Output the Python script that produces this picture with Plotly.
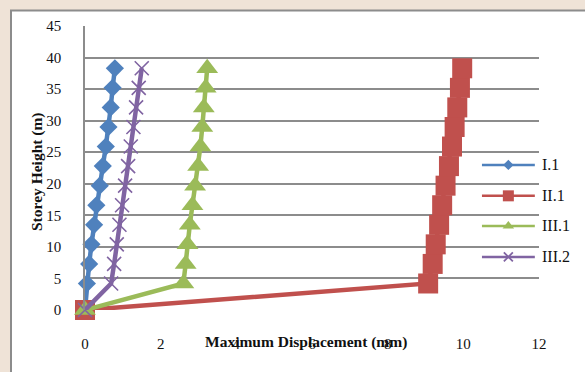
import plotly.graph_objects as go

# Storey levels (m) and peak displacement (mm) per load case
storey_height = [0, 4.2, 7.3, 10.4, 13.5, 16.6, 19.7, 22.8, 25.9, 29.0, 32.1, 35.2, 38.3]
disp_I1 = [0, 0.05, 0.11, 0.17, 0.24, 0.30, 0.39, 0.47, 0.55, 0.62, 0.68, 0.73, 0.79]
disp_II1 = [0, 9.07, 9.19, 9.27, 9.36, 9.44, 9.53, 9.62, 9.70, 9.77, 9.84, 9.91, 9.97]
disp_III1 = [0, 2.60, 2.66, 2.71, 2.77, 2.84, 2.91, 2.99, 3.05, 3.10, 3.14, 3.19, 3.23]
disp_III2 = [0, 0.69, 0.77, 0.84, 0.91, 0.98, 1.06, 1.14, 1.21, 1.28, 1.35, 1.42, 1.50]

series_names = ["I.1", "II.1", "III.1", "III.2"]
x_ticks = [0, 2, 4, 6, 8, 10, 12]
y_ticks = [0, 5, 10, 15, 20, 25, 30, 35, 40, 45]

colors = ["#4F81BD", "#C0504D", "#9BBB59", "#8064A2"]
symbols = ["diamond", "square", "triangle-up", "x-thin-open"]
sizes = [14, 20, 19, 14]
key_sizes = [8, 11, 10, 9]
SERIF = "Liberation Serif"

fig = go.Figure()

for name, xs, col, sym, sz in zip(series_names, [disp_I1, disp_II1, disp_III1, disp_III2],
                                  colors, symbols, sizes):
    fig.add_trace(go.Scatter(
        x=xs, y=storey_height, mode="lines+markers", name=name,
        line=dict(color=col, width=4.5),
        marker=dict(symbol=sym, size=sz, color=col,
                    line=dict(color=col, width=1.6 if "x" in sym else 0)),
        cliponaxis=False, showlegend=False,
    ))

# Legend keys drawn on a small overlay axis at the right of the plot
key_rows = [0.511, 0.402, 0.296, 0.187]
for name, col, sym, ks, yk in zip(series_names, colors, symbols, key_sizes, key_rows):
    fig.add_trace(go.Scatter(
        x=[0, 1], y=[yk, yk], mode="lines", xaxis="x2", yaxis="y2",
        line=dict(color=col, width=2.5), showlegend=False, hoverinfo="skip",
        cliponaxis=False,
    ))
    fig.add_trace(go.Scatter(
        x=[0.5], y=[yk], mode="markers", xaxis="x2", yaxis="y2",
        marker=dict(symbol=sym, size=ks, color=col,
                    line=dict(color=col, width=1.8 if "x" in sym else 0)),
        showlegend=False, hoverinfo="skip", cliponaxis=False,
    ))
    fig.add_annotation(text=name, x=1.002, y=yk, xref="paper", yref="paper",
                       xanchor="left", yanchor="middle", showarrow=False,
                       font=dict(family=SERIF, size=16, color="#111111"))

# Chart-area frame
fig.add_shape(type="rect", xref="paper", yref="paper",
              x0=-0.163, x1=1.15, y0=-0.35, y1=1.055,
              fillcolor="white", line=dict(color="#8c8c8c", width=2), layer="below")

# Axis titles
fig.add_annotation(text="<b>Maximum Displacement (mm)</b>", x=0.487, y=-0.113,
                   xref="paper", yref="paper", xanchor="center", yanchor="middle",
                   showarrow=False, font=dict(family=SERIF, size=15.5, color="#111111"))
fig.add_annotation(text="<b>Storey Height (m)</b>", x=-0.106, y=0.489, textangle=-90,
                   xref="paper", yref="paper", xanchor="center", yanchor="middle",
                   showarrow=False, font=dict(family=SERIF, size=15.5, color="#111111"))

fig.update_layout(
    width=585, height=372,
    margin=dict(l=85, r=46, t=26, b=62),
    paper_bgcolor="#efe3d7",
    plot_bgcolor="rgba(0,0,0,0)",
    showlegend=False,
    xaxis=dict(range=[0, 12], tickvals=x_ticks, showgrid=False, zeroline=False,
               showline=False, ticks="outside", ticklen=20, tickcolor="rgba(0,0,0,0)",
               tickfont=dict(family=SERIF, size=15, color="#111111")),
    yaxis=dict(range=[0, 45], tickvals=y_ticks, showgrid=True, gridcolor="#8c8c8c",
               gridwidth=1.5, zeroline=False, showline=True, linecolor="#8c8c8c",
               linewidth=1.5, ticks="outside", ticklen=19, tickcolor="rgba(0,0,0,0)",
               tickfont=dict(family=SERIF, size=15, color="#111111")),
    xaxis2=dict(domain=[0.874, 0.991], range=[0, 1], anchor="y2", visible=False,
                fixedrange=True),
    yaxis2=dict(domain=[0, 1], range=[0, 1], anchor="x2", overlaying="y",
                visible=False, fixedrange=True),
)

fig.write_html("out.html")
